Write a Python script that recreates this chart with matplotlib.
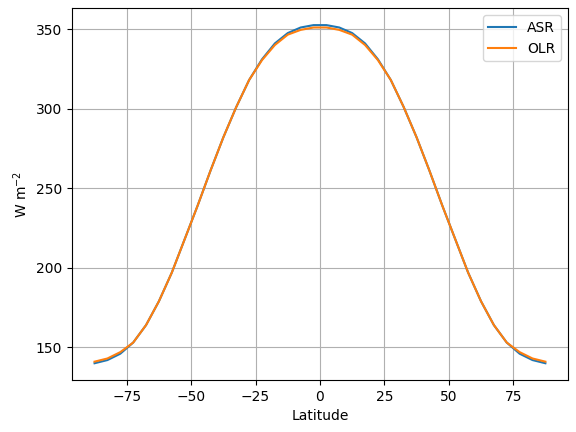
import numpy as np
import matplotlib
matplotlib.use("Agg")
import matplotlib.pyplot as plt

lat = np.arange(-87.5, 90, 5.0)
asr_half = [140, 142, 146, 153, 164, 179, 197, 218, 239, 261, 282, 301, 318, 331, 341, 347.5, 351, 352.5]
olr_half = [141, 143, 147, 153, 164, 179, 197, 218, 239, 261, 282, 301, 318, 330.5, 340, 346.5, 349.5, 351]
asr = asr_half + asr_half[::-1]
olr = olr_half + olr_half[::-1]

fig, ax = plt.subplots(figsize=(5.76, 4.32), dpi=100)
fig.subplots_adjust(left=0.125, right=0.986, top=0.981, bottom=0.12)
ax.plot(lat, asr, label="ASR")
ax.plot(lat, olr, label="OLR")
ax.set_xlabel("Latitude")
ax.set_ylabel("W m$^{-2}$")
ax.grid(True)
ax.legend()
fig.savefig("out.png")
